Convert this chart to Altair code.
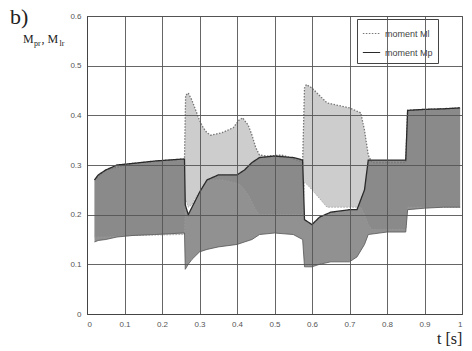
import altair as alt
import pandas as pd

# moment Ml (dotted, light) envelope
ml_t = [0.020, 0.050, 0.120, 0.255, 0.260, 0.263, 0.270, 0.280, 0.290, 0.300, 0.310, 0.320, 0.330,
        0.360, 0.390, 0.405, 0.415, 0.430, 0.440, 0.450, 0.460, 0.480, 0.520, 0.560, 0.575, 0.580,
        0.585, 0.600, 0.640, 0.700, 0.730, 0.740, 0.750, 0.760, 0.800, 0.850, 0.855, 0.900, 0.995]
ml_upper = [0.270, 0.290, 0.303, 0.312, 0.312, 0.440, 0.445, 0.430, 0.410, 0.390, 0.375, 0.365, 0.360,
            0.365, 0.375, 0.390, 0.395, 0.380, 0.360, 0.335, 0.320, 0.318, 0.320, 0.310, 0.305, 0.455,
            0.462, 0.455, 0.425, 0.415, 0.405, 0.370, 0.320, 0.305, 0.305, 0.305, 0.410, 0.412, 0.415]
ml_lower = [0.155, 0.155, 0.158, 0.160, 0.160, 0.230, 0.215, 0.220, 0.235, 0.245, 0.255, 0.265, 0.270,
            0.270, 0.265, 0.262, 0.255, 0.240, 0.225, 0.210, 0.200, 0.200, 0.200, 0.200, 0.200, 0.265,
            0.262, 0.250, 0.215, 0.215, 0.215, 0.200, 0.180, 0.170, 0.170, 0.170, 0.215, 0.215, 0.215]

# moment Mp (solid, dark) envelope
mp_t = [0.020, 0.030, 0.050, 0.080, 0.120, 0.180, 0.255, 0.260, 0.262, 0.270, 0.280, 0.300, 0.320,
        0.350, 0.400, 0.420, 0.440, 0.460, 0.500, 0.550, 0.575, 0.580, 0.600, 0.620, 0.650, 0.700,
        0.720, 0.740, 0.750, 0.800, 0.850, 0.855, 0.900, 0.950, 0.995]
mp_upper = [0.270, 0.280, 0.290, 0.300, 0.303, 0.308, 0.312, 0.312, 0.220, 0.200, 0.215, 0.245, 0.270,
            0.280, 0.280, 0.290, 0.305, 0.315, 0.318, 0.315, 0.310, 0.190, 0.180, 0.195, 0.205, 0.210,
            0.210, 0.250, 0.310, 0.310, 0.310, 0.410, 0.412, 0.413, 0.415]
mp_lower = [0.145, 0.148, 0.150, 0.155, 0.158, 0.160, 0.163, 0.163, 0.090, 0.100, 0.110, 0.125, 0.130,
            0.135, 0.140, 0.145, 0.150, 0.160, 0.163, 0.160, 0.150, 0.095, 0.095, 0.100, 0.105, 0.105,
            0.115, 0.140, 0.160, 0.165, 0.165, 0.210, 0.213, 0.215, 0.215]

series_names = ["moment Ml", "moment Mp"]
x_ticks = [0, 0.1, 0.2, 0.3, 0.4, 0.5, 0.6, 0.7, 0.8, 0.9, 1]
y_ticks = [0, 0.1, 0.2, 0.3, 0.4, 0.5, 0.6]

ml = pd.DataFrame({"t": ml_t, "upper": ml_upper, "lower": ml_lower, "series": series_names[0]})
mp = pd.DataFrame({"t": mp_t, "upper": mp_upper, "lower": mp_lower, "series": series_names[1]})
df = pd.concat([ml, mp], ignore_index=True)

x = alt.X("t:Q", scale=alt.Scale(domain=[0, 1], nice=False),
          axis=alt.Axis(values=x_ticks, format="~g", title=None, grid=True, zindex=1))
y_axis = alt.Axis(values=y_ticks, format="~g", title=None, grid=True, zindex=1)
yscale = alt.Scale(domain=[0, 0.6], nice=False)

area_ml = alt.Chart(ml).mark_area(color="#cdcdcd", opacity=1).encode(
    x=x, y=alt.Y("lower:Q", scale=yscale, axis=y_axis), y2="upper:Q")
area_mp = alt.Chart(mp).mark_area(color="#7e7e7e", opacity=0.85).encode(
    x=x, y=alt.Y("lower:Q", scale=yscale, axis=y_axis), y2="upper:Q")

low_ml = alt.Chart(ml).mark_line(strokeWidth=0.8, color="#9a9a9a", strokeDash=[1.5, 1.5]).encode(
    x=x, y=alt.Y("lower:Q", scale=yscale, axis=y_axis))
low_mp = alt.Chart(mp).mark_line(strokeWidth=0.8, color="#555555").encode(
    x=x, y=alt.Y("lower:Q", scale=yscale, axis=y_axis))

color = alt.Color("series:N", scale=alt.Scale(domain=series_names, range=["#777777", "#2a2a2a"]),
                  legend=alt.Legend(orient="none", legendX=270, legendY=3, title=None,
                                    labelFontSize=9, labelColor="#444", symbolType="stroke",
                                    symbolSize=300, symbolStrokeWidth=1.2, strokeColor="#444",
                                    fillColor="white", padding=5, rowPadding=4))
dash = alt.StrokeDash("series:N", scale=alt.Scale(domain=series_names, range=[[1.5, 1.5], [1, 0]]),
                      legend=None)

up_lines = alt.Chart(df).mark_line(strokeWidth=1.3).encode(
    x=x, y=alt.Y("upper:Q", scale=yscale, axis=y_axis), color=color, strokeDash=dash)

serif = "Liberation Serif"
title_b = alt.Chart(pd.DataFrame({"s": ["b)"]})).mark_text(
    font=serif, fontSize=22, align="left", baseline="alphabetic", color="#222"
).encode(text="s:N", x=alt.value(-77), y=alt.value(8))
ylab_M1 = alt.Chart(pd.DataFrame({"s": ["M"]})).mark_text(
    font=serif, fontSize=12, align="left", baseline="alphabetic", color="#222"
).encode(text="s:N", x=alt.value(-64), y=alt.value(27))
ylab_s1 = alt.Chart(pd.DataFrame({"s": ["pr"]})).mark_text(
    font=serif, fontSize=8, align="left", baseline="alphabetic", color="#222"
).encode(text="s:N", x=alt.value(-53), y=alt.value(30))
ylab_M2 = alt.Chart(pd.DataFrame({"s": [", M"]})).mark_text(
    font=serif, fontSize=12, align="left", baseline="alphabetic", color="#222"
).encode(text="s:N", x=alt.value(-45.5), y=alt.value(27))
ylab_s2 = alt.Chart(pd.DataFrame({"s": ["lr"]})).mark_text(
    font=serif, fontSize=8, align="left", baseline="alphabetic", color="#222"
).encode(text="s:N", x=alt.value(-27.5), y=alt.value(30))
xlab = alt.Chart(pd.DataFrame({"s": ["t [s]"]})).mark_text(
    font=serif, fontSize=16, align="left", baseline="alphabetic", color="#222"
).encode(text="s:N", x=alt.value(350), y=alt.value(328))

chart = alt.layer(area_ml, area_mp, low_ml, low_mp, up_lines, title_b, ylab_M1, ylab_s1, ylab_M2,
                  ylab_s2, xlab).properties(
    width=375, height=298,
    autosize=alt.AutoSizeParams(type="none"),
    padding={"left": 87, "top": 16, "right": 10, "bottom": 37},
    background="white",
).configure_view(stroke="#444", strokeWidth=1).configure_axis(
    gridColor="#555", gridWidth=0.9, gridOpacity=1, domainColor="#444", domainWidth=1,
    ticks=False, labelFontSize=8, labelColor="#555", labelFont="Liberation Sans",
    labelPadding=6,
).configure_legend(labelFont="Liberation Sans")

chart.save("out.html", embed_options={"renderer": "svg", "actions": False})
